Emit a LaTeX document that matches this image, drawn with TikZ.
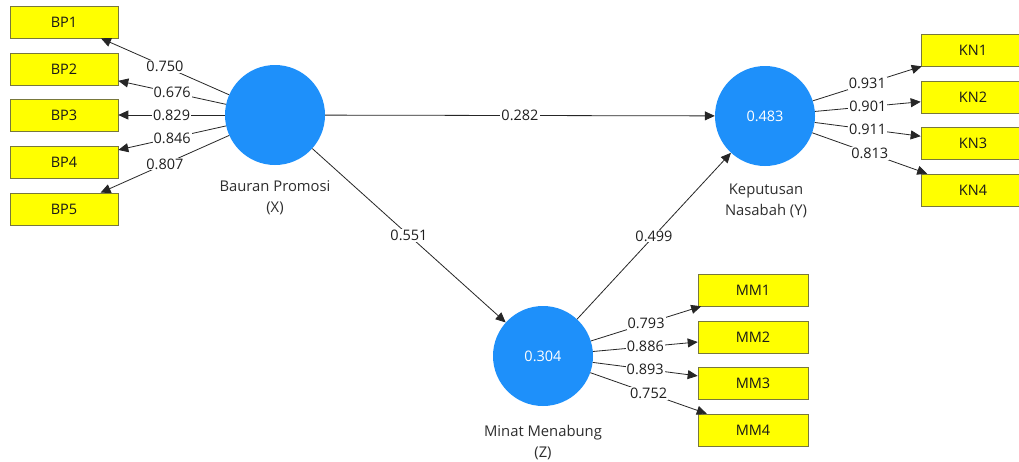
\documentclass[tikz,border=0pt]{standalone}
\usepackage{fontspec}
\setmainfont{Open Sans}
\usetikzlibrary{arrows.meta}
\definecolor{lvblue}{RGB}{30,144,250}
\definecolor{mvyellow}{RGB}{255,255,0}
\definecolor{mvborder}{RGB}{120,120,60}
\tikzset{
  latent/.style={circle, fill=lvblue, minimum size=100pt, inner sep=0pt, text=white,
    font=\fontsize{14.5}{17}\selectfont},
  indicator/.style={draw=mvborder, line width=0.6pt, fill=mvyellow, minimum width=108pt,
    minimum height=32pt, inner sep=0pt, text=black!90, font=\fontsize{14.5}{17}\selectfont},
  link/.style={draw=black!85, line width=0.8pt, -{Triangle[length=10pt,width=9pt]}},
  weight/.style={fill=white, inner sep=1pt, text=black!88, font=\fontsize{14.5}{17}\selectfont},
  caption/.style={align=center, text=black!82, font=\fontsize{14.8}{21}\selectfont}
}
\begin{document}
\begin{tikzpicture}[x=1pt,y=-1pt]
\useasboundingbox[fill=white] (0,0) rectangle (1019,461);

% latent variables
\node[latent] (X) at (275,115) {};
\node[latent] (Y) at (765,116) {0.483};
\node[latent] (Z) at (543,356) {0.304};

\node[caption] (Xc) at (275,198) {Bauran Promosi\\(X)};
\node[caption] (Yc) at (766,201) {Keputusan\\Nasabah (Y)};
\node[caption] (Zc) at (543,443) {Minat Menabung\\(Z)};

% indicators of X
\node[indicator] (BP1) at (64,22) {BP1};
\node[indicator] (BP2) at (64,69) {BP2};
\node[indicator] (BP3) at (64,115) {BP3};
\node[indicator] (BP4) at (64,162) {BP4};
\node[indicator] (BP5) at (64,209) {BP5};

% indicators of Y
\node[indicator, minimum width=104pt] (KN1) at (973,50) {KN1};
\node[indicator, minimum width=104pt] (KN2) at (973,97) {KN2};
\node[indicator, minimum width=104pt] (KN3) at (973,143) {KN3};
\node[indicator, minimum width=104pt] (KN4) at (973,190) {KN4};

% indicators of Z
\node[indicator, minimum width=110pt] (MM1) at (753,290) {MM1};
\node[indicator, minimum width=110pt] (MM2) at (753,337) {MM2};
\node[indicator, minimum width=110pt] (MM3) at (753,383) {MM3};
\node[indicator, minimum width=110pt] (MM4) at (753,430) {MM4};

% outer loadings
\draw[link] (X) -- node[weight] {0.750} (BP1);
\draw[link] (X) -- node[weight] {0.676} (BP2);
\draw[link] (X) -- node[weight] {0.829} (BP3);
\draw[link] (X) -- node[weight] {0.846} (BP4);
\draw[link] (X) -- node[weight] {0.807} (BP5);

\draw[link] (Y) -- node[weight] {0.931} (KN1);
\draw[link] (Y) -- node[weight] {0.901} (KN2);
\draw[link] (Y) -- node[weight] {0.911} (KN3);
\draw[link] (Y) -- node[weight] {0.813} (KN4);

\draw[link] (Z) -- node[weight] {0.793} (MM1);
\draw[link] (Z) -- node[weight] {0.886} (MM2);
\draw[link] (Z) -- node[weight] {0.893} (MM3);
\draw[link] (Z) -- node[weight] {0.752} (MM4);

% structural paths
\draw[link] (X) -- node[weight] {0.282} (Y);
\draw[link] (X) -- node[weight] {0.551} (Z);
\draw[link] (Z) -- node[weight] {0.499} (Y);
\end{tikzpicture}
\end{document}
